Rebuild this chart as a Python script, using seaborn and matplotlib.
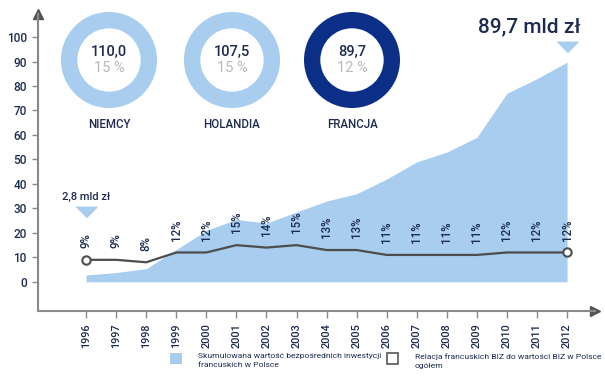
import numpy as np
import pandas as pd
import matplotlib
matplotlib.use("Agg")
import matplotlib.pyplot as plt
from matplotlib.patches import Rectangle
import seaborn as sns

# dane
years = list(range(1996, 2013))
cumulative = [2.8, 3.8, 5.4, 13.2, 21, 25.5, 24, 28.5, 33, 36, 42, 49, 53, 59, 77, 83, 89.7]
share = [9, 9, 8, 12, 12, 15, 14, 15, 13, 13, 11, 11, 11, 11, 12, 12, 12]

countries = ["NIEMCY", "HOLANDIA", "FRANCJA"]
country_values = ["110,0", "107,5", "89,7"]
country_shares = ["15 %", "15 %", "12 %"]
country_colors = ["#a8cdee", "#a8cdee", "#0b2f86"]

legend_labels = ["Skumulowana wartość bezpośrednich inwestycji\nfrancuskich w Polsce",
                 "Relacja francuskich BIZ do wartości BIZ w Polsce\nogółem"]

navy = "#1c2b4f"
light = "#a8cdee"
axis_grey = "#8a8a8a"

df = pd.DataFrame({"rok": years, "wartosc": cumulative, "udzial": share})

sns.set_style("white")
plt.rcParams["font.family"] = ["Roboto", "DejaVu Sans"]
plt.rcParams["font.weight"] = "medium"

W, H = 605, 384
fig = plt.figure(figsize=(W / 100, H / 100), dpi=100)

def fx(px):
    return px / W

def fy(py):
    return 1 - py / H

# main axes: left spine at px 38, bottom at py 311
ax = fig.add_axes([fx(38), fy(311), (595 - 38) / W, (311 - 14) / H])
ax.set_xlim(1994.40, 2012.93)
ax.set_ylim(-11.9, 109.4)

ax.fill_between(df["rok"], 0, df["wartosc"], color=light, lw=0, zorder=1)
sns.lineplot(data=df, x="rok", y="udzial", ax=ax, color="#4d4d4d", lw=1.6, zorder=3)
ends = df.iloc[[0, -1]]
ax.plot(ends["rok"], ends["udzial"], "o", ms=6, mfc="white", mec="#4d4d4d", mew=1.5, zorder=4)

for x, p in zip(df["rok"], df["udzial"]):
    ax.text(x, p + 4.8, f"{p}%", rotation=90, ha="center", va="bottom",
            fontsize=8.3, color=navy, zorder=5)

# markers for start/end values
tri = [(-1, 0.5), (1, 0.5), (0, -0.5)]
ax.plot([years[0]], [28.6], marker=tri, ms=15, color=light, ls="none")
ax.text(years[0], 32.5, "2,8 mld zł", ha="center", va="bottom", fontsize=8, color=navy)
ax.plot([years[-1]], [96], marker=tri, ms=15, color=light, ls="none")
ax.text(years[-1] - 1.25, 104, "89,7 mld zł", ha="center", va="center", fontsize=15, color=navy)

# axes styling
for s in ["top", "right"]:
    ax.spines[s].set_visible(False)
for s in ["left", "bottom"]:
    ax.spines[s].set_color(axis_grey)
    ax.spines[s].set_linewidth(1.5)
ax.plot(1, 0, ">", color="#555555", ms=7, transform=ax.transAxes, clip_on=False)
ax.plot(0, 1, "^", color="#555555", ms=7, transform=ax.transAxes, clip_on=False)

ax.set_yticks(range(0, 101, 10))
ax.set_xticks(years)
ax.set_xticklabels([str(y) for y in years], rotation=90)
ax.tick_params(axis="y", direction="out", length=4, width=1, color=axis_grey,
               labelsize=8.5, labelcolor=navy, pad=4, left=True)
ax.tick_params(axis="x", direction="out", length=5, width=1, color=axis_grey,
               labelsize=7.8, labelcolor=navy, pad=4, bottom=True)
ax.set_xlabel("")
ax.set_ylabel("")

# donuts
centers = [109, 232, 352]
r = 48
for cx, name, val, sh, col in zip(centers, countries, country_values, country_shares, country_colors):
    dax = fig.add_axes([fx(cx - r), fy(60 + r), 2 * r / W, 2 * r / H])
    dax.pie([1], colors=[col], radius=1, startangle=90,
            wedgeprops=dict(width=0.34, edgecolor="none"))
    dax.set_xlim(-1, 1)
    dax.set_ylim(-1, 1)
    dax.axis("off")
    fig.text(fx(cx), fy(52), val, ha="center", va="center", fontsize=10.5, color=navy)
    fig.text(fx(cx), fy(68), sh, ha="center", va="center", fontsize=10.5,
             color="#b9b9b9", fontweight="normal")
    fig.text(fx(cx), fy(124), name, ha="center", va="center", fontsize=8.3, color=navy)

# legend
fig.patches.append(Rectangle((fx(170), fy(364)), 12 / W, 11 / H, transform=fig.transFigure,
                             facecolor=light, edgecolor="none"))
fig.patches.append(Rectangle((fx(387), fy(364)), 11 / W, 11 / H, transform=fig.transFigure,
                             facecolor="white", edgecolor="#555555", lw=1.2))
fig.text(fx(198), fy(353), legend_labels[0], ha="left", va="top", fontsize=6.1,
         color=navy, linespacing=1.6, fontweight="normal")
fig.text(fx(415), fy(353), legend_labels[1], ha="left", va="top", fontsize=6.1,
         color=navy, linespacing=1.6, fontweight="normal")

fig.savefig("out.png", dpi=100)
